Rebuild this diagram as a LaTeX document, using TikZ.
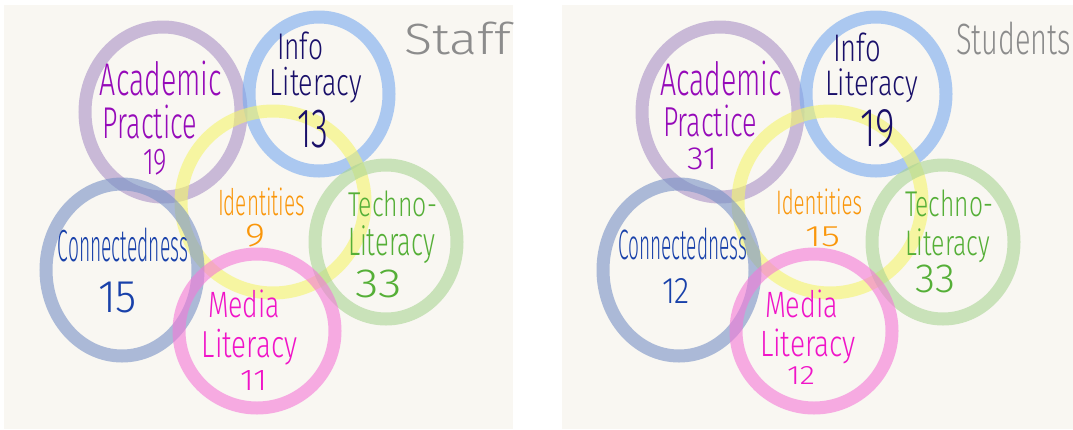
\documentclass[tikz,border=0pt]{standalone}
\usepackage{fontspec}
\setmainfont{Fira Sans}[UprightFont=* Light]
\usepackage{graphicx}

% squeeze a word into a box: width, total height, text
\newcommand\hw[3]{\resizebox*{#1pt}{#2pt}{#3}}

\definecolor{paper}{RGB}{249,247,242}
\definecolor{acadring}{RGB}{169,145,198}
\definecolor{inforing}{RGB}{119,170,240}
\definecolor{idring}{RGB}{244,245,107}
\definecolor{technoring}{RGB}{169,212,148}
\definecolor{connring}{RGB}{119,145,198}
\definecolor{mediaring}{RGB}{244,120,215}
\definecolor{acadink}{RGB}{150,10,185}
\definecolor{infoink}{RGB}{25,15,105}
\definecolor{idink}{RGB}{250,150,10}
\definecolor{technoink}{RGB}{85,175,55}
\definecolor{connink}{RGB}{25,65,170}
\definecolor{mediaink}{RGB}{240,20,200}
\definecolor{sheetink}{RGB}{140,140,140}

\begin{document}
\begin{tikzpicture}[x=1pt,y=-1pt,
  ring/.style={line width=13pt,opacity=0.6},
  word/.style={inner sep=0pt,font=\fontsize{20}{24}\selectfont}]
  \useasboundingbox (0,0) rectangle (1073,429);
  \fill[white] (0,0) rectangle (1073,429);
  \fill[paper] (4,5) rectangle (513,429);
  \fill[paper] (562,5) rectangle (1073,429);

  % same six rings on both sheets
  \foreach \dx in {0,557} {
    \begin{scope}[xshift=\dx]
      \draw[ring,acadring] (163,112) ellipse [x radius=78,y radius=85];
      \draw[ring,inforing] (319,94) ellipse [x radius=70,y radius=77];
      \draw[ring,idring] (273,202) ellipse [x radius=92,y radius=91];
      \draw[ring,technoring] (386,242) ellipse [x radius=71,y radius=77];
      \draw[ring,connring] (122,270) ellipse [x radius=76,y radius=86];
      \draw[ring,mediaring] (257,331) ellipse [x radius=78,y radius=77];
    \end{scope}
  }

  % staff sheet
  \node[word,sheetink] (staff) at (457.5,38.5) {\hw{107}{33}{Staff}};
  \node[word,acadink] (staffAcad) at (161,78) {\hw{122}{35}{Academic}};
  \node[word,acadink] (staffPrac) at (150,122) {\hw{94}{34}{Practice}};
  \node[word,acadink] (staffAcadN) at (155,162) {\hw{24}{26}{19}};
  \node[word,infoink] (staffInfo) at (300,46) {\hw{46}{28}{Info}};
  \node[word,infoink] (staffInfoLit) at (316,85) {\hw{92}{36}{Literacy}};
  \node[word,infoink] (staffInfoN) at (312.5,129) {\hw{31}{38}{13}};
  \node[word,idink] (staffId) at (261.5,202) {\hw{87}{28}{Identities}};
  \node[word,idink] (staffIdN) at (255,236) {\hw{20}{23}{9}};
  \node[word,technoink] (staffTech) at (392.5,204) {\hw{89}{26}{Techno-}};
  \node[word,technoink] (staffTechLit) at (391.5,245) {\hw{87}{38}{Literacy}};
  \node[word,technoink] (staffTechN) at (378.5,284) {\hw{47}{28}{33}};
  \node[word,connink] (staffConn) at (123,245) {\hw{130}{34}{Connectedness}};
  \node[word,connink] (staffConnN) at (117.5,297.5) {\hw{39}{31}{15}};
  \node[word,mediaink] (staffMedia) at (244,304) {\hw{72}{28}{Media}};
  \node[word,mediaink] (staffMediaLit) at (249.5,347) {\hw{95}{36}{Literacy}};
  \node[word,mediaink] (staffMediaN) at (253.5,380) {\hw{27}{20}{11}};

  % students sheet
  \node[word,sheetink] (students) at (1013.5,38.5) {\hw{115}{33}{Students}};
  \node[word,acadink] (stuAcad) at (721,78) {\hw{122}{35}{Academic}};
  \node[word,acadink] (stuPrac) at (710,121) {\hw{94}{32}{Practice}};
  \node[word,acadink] (stuAcadN) at (702,159) {\hw{30}{22}{31}};
  \node[word,infoink] (stuInfo) at (857,47) {\hw{48}{29}{Info}};
  \node[word,infoink] (stuInfoLit) at (871.5,86) {\hw{93}{34}{Literacy}};
  \node[word,infoink] (stuInfoN) at (877.5,129) {\hw{35}{38}{19}};
  \node[word,idink] (stuId) at (819,202) {\hw{86}{26}{Identities}};
  \node[word,idink] (stuIdN) at (822.5,237) {\hw{35}{20}{15}};
  \node[word,technoink] (stuTech) at (949,203.5) {\hw{88}{27}{Techno-}};
  \node[word,technoink] (stuTechLit) at (947.5,246) {\hw{85}{34}{Literacy}};
  \node[word,technoink] (stuTechN) at (935,279) {\hw{40}{28}{33}};
  \node[word,connink] (stuConn) at (682.5,244) {\hw{129}{32}{Connectedness}};
  \node[word,connink] (stuConnN) at (676,290.5) {\hw{28}{25}{12}};
  \node[word,mediaink] (stuMedia) at (801.5,304) {\hw{73}{28}{Media}};
  \node[word,mediaink] (stuMediaLit) at (808,346) {\hw{96}{35}{Literacy}};
  \node[word,mediaink] (stuMediaN) at (801,375) {\hw{28}{18}{12}};
\end{tikzpicture}
\end{document}
